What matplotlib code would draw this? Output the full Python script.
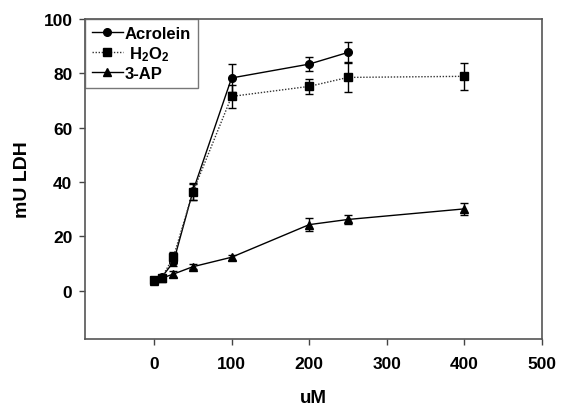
import matplotlib
matplotlib.use("Agg")
import matplotlib.pyplot as plt

plt.rcParams['font.family'] = ['Liberation Sans', 'DejaVu Sans']
plt.rcParams['mathtext.fontset'] = 'custom'
plt.rcParams['mathtext.bf'] = 'Liberation Sans:bold'
plt.rcParams['mathtext.rm'] = 'Liberation Sans'

# concentrations (uM)
acro_x = [0, 10, 25, 50, 100, 200, 250]
acro_y = [4.0, 5.0, 10.5, 36.5, 78.3, 83.4, 87.7]
acro_err = [0.8, 0.8, 1.5, 3.0, 5.0, 2.7, 3.7]

h2o2_x = [0, 10, 25, 50, 100, 200, 250, 400]
h2o2_y = [3.8, 4.8, 12.4, 36.2, 71.5, 75.2, 78.5, 78.9]
h2o2_err = [0.8, 0.8, 2.0, 3.0, 4.3, 2.9, 5.2, 5.0]

ap_x = [0, 10, 25, 50, 100, 200, 250, 400]
ap_y = [3.6, 4.6, 6.1, 8.8, 12.3, 24.3, 26.2, 30.1]
ap_err = [0.6, 0.6, 1.0, 1.0, 1.0, 2.5, 1.8, 2.2]

fig = plt.figure(figsize=(5.61, 4.06), dpi=100)
ax = fig.add_axes([0.1515, 0.1626, 0.8145, 0.7881])

ekw = dict(ecolor='black', elinewidth=1.0, capsize=3, capthick=1.0)
e1 = ax.errorbar(acro_x, acro_y, yerr=acro_err, marker='o', markersize=5.5,
                 color='black', linestyle='-', linewidth=1.0, **ekw)
e2 = ax.errorbar(h2o2_x, h2o2_y, yerr=h2o2_err, marker='s', markersize=5.5,
                 color='#333333', markerfacecolor='black', markeredgecolor='black',
                 linestyle=(0, (1, 1.2)), linewidth=1.0, **ekw)
e3 = ax.errorbar(ap_x, ap_y, yerr=ap_err, marker='^', markersize=6,
                 color='black', linestyle='-', linewidth=1.0, **ekw)

ax.set_xlim(-89, 500)
ax.set_ylim(-17.8, 100)
ax.set_xticks([0, 100, 200, 300, 400, 500])
ax.set_yticks([0, 20, 40, 60, 80, 100])
ax.tick_params(direction='out', length=4, width=1, labelsize=12.5, color='#444444')
ax.tick_params(axis='x', pad=8)
ax.tick_params(axis='y', pad=5)
for lab in ax.get_xticklabels() + ax.get_yticklabels():
    lab.set_fontweight('bold')
for sp in ax.spines.values():
    sp.set_color('#555555')
    sp.set_linewidth(1.2)

ax.set_xlabel('uM', fontsize=13.5, fontweight='bold', labelpad=13)
ax.set_ylabel('mU LDH', fontsize=14, fontweight='bold', labelpad=9)

leg = ax.legend([e1[0], e2[0], e3[0]],
                ['Acrolein', r' $\mathbf{H_2O_2}$', '3-AP'],
                loc='upper left', bbox_to_anchor=(0.0, 1.0), fancybox=False,
                edgecolor='#555555', borderaxespad=0.0, handlelength=1.9,
                handletextpad=0.1, labelspacing=0.2, borderpad=0.4,
                prop={'weight': 'bold', 'size': 12})
leg.get_frame().set_linewidth(1.0)

fig.savefig('out.png', dpi=100, facecolor='w')
